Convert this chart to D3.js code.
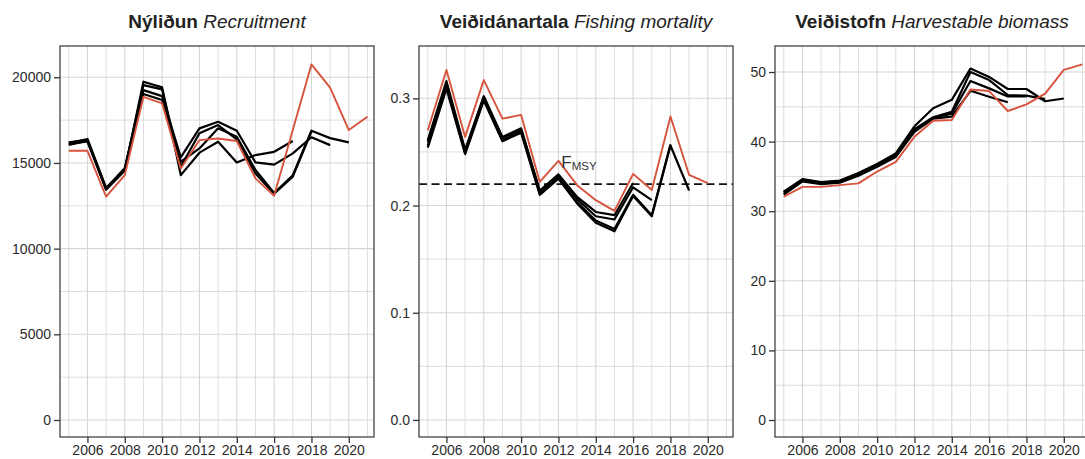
<!DOCTYPE html>
<html>
<head>
<meta charset="utf-8">
<script src="https://cdn.jsdelivr.net/npm/d3@7"></script>
<style>
body { margin: 0; background: #fff; }
svg { font-family: "Liberation Sans", Arial, Helvetica, sans-serif; }
</style>
</head>
<body>
<svg id="chart" width="1085" height="459"></svg>
<script>
/* global d3 */

// retrospective runs, every series starts in 2005
const FIRSTYEAR = 2005;
const XTICKS = [2006, 2008, 2010, 2012, 2014, 2016, 2018, 2020];
const XGRID = d3.range(2005, 2022);

// Nýliðun / Recruitment
const REC_2017 = [16050, 16300, 13450, 14550, 19740, 19410, 14290, 15600, 16240, 15030, 15460, 15650, 16280];
const REC_2018 = [16150, 16400, 13550, 14650, 19545, 19290, 14780, 16730, 17210, 16380, 14390, 13200, 14200, 16850];
const REC_2019 = [16200, 16350, 13500, 14700, 19250, 18900, 15325, 17020, 17400, 16880, 15030, 14900, 15560, 16500, 16040];
const REC_2020 = [16100, 16250, 13450, 14600, 19020, 18670, 15070, 15850, 17020, 16530, 14585, 13250, 14280, 16880, 16450, 16200];
const REC_2021 = [15710, 15710, 13030, 14290, 18860, 18480, 14680, 16335, 16430, 16280, 14100, 13090, 16920, 20750, 19400, 16920, 17700];

// Veiðidánartala / Fishing mortality
const F_2016 = [0.261, 0.316, 0.252, 0.302, 0.264, 0.272, 0.214, 0.229, 0.208, 0.194, 0.191, 0.221];
const F_2017 = [0.259, 0.314, 0.251, 0.301, 0.263, 0.271, 0.213, 0.228, 0.206, 0.190, 0.187, 0.217, 0.205];
const F_2018 = [0.256, 0.311, 0.249, 0.299, 0.261, 0.269, 0.211, 0.226, 0.203, 0.186, 0.178, 0.210, 0.191, 0.257];
const F_2019 = [0.254, 0.309, 0.248, 0.298, 0.260, 0.268, 0.210, 0.225, 0.202, 0.184, 0.176, 0.209, 0.190, 0.256, 0.214];
const F_2020 = [0.270, 0.3265, 0.264, 0.317, 0.281, 0.2845, 0.222, 0.2416, 0.219, 0.205, 0.195, 0.2295, 0.2145, 0.283, 0.2285, 0.2208];
const FMSY = 0.22;

// Veiðistofn / Harvestable biomass
const BIO_2017 = [32.4, 34.3, 33.9, 34.1, 35.1, 36.4, 37.8, 41.4, 43.3, 43.6, 47.3, 46.45, 45.65];
const BIO_2018 = [32.5, 34.4, 34.0, 34.2, 35.2, 36.5, 37.9, 41.6, 43.4, 44.0, 48.7, 47.65, 46.5, 46.5];
const BIO_2019 = [32.7, 34.5, 34.1, 34.3, 35.4, 36.7, 38.1, 41.8, 43.5, 44.3, 50.0, 48.85, 46.7, 46.6, 46.1];
const BIO_2020 = [32.8, 34.6, 34.2, 34.4, 35.5, 36.8, 38.3, 42.2, 44.8, 46.0, 50.5, 49.3, 47.56, 47.56, 45.8, 46.2];
const BIO_2021 = [32.1, 33.5, 33.5, 33.75, 34.0, 35.7, 37.1, 40.7, 43.0, 43.1, 47.5, 47.27, 44.4, 45.35, 46.9, 50.3, 51.1];

const RED = "#d7533d";
const GRID = "#d6d6d6";

var panels = [
  {bold: "Nýliðun", ital: "Recruitment", left: 60,
   ydom: [-992, 21825], yticks: [0, 5000, 10000, 15000, 20000], yminor: [2500, 7500, 12500, 17500],
   fmt: d3.format("d"), old: [REC_2017, REC_2018, REC_2019, REC_2020], last: REC_2021},
  {bold: "Veiðidánartala", ital: "Fishing mortality", left: 419,
   ydom: [-0.0159, 0.3488], yticks: [0, 0.1, 0.2, 0.3], yminor: [0.05, 0.15, 0.25],
   fmt: d3.format(".1f"), old: [F_2016, F_2017, F_2018, F_2019], last: F_2020, ref: FMSY},
  {bold: "Veiðistofn", ital: "Harvestable biomass", left: 775,
   ydom: [-2.44, 53.74], yticks: [0, 10, 20, 30, 40, 50], yminor: [5, 15, 25, 35, 45],
   fmt: d3.format("d"), old: [BIO_2017, BIO_2018, BIO_2019, BIO_2020], last: BIO_2021}
];

var svg = d3.select("#chart");
var ptop = 46, pbottom = 437, pw = 314;

for (var p of panels) {
  var x = d3.scaleLinear().domain([2004.53, 2021.35]).range([p.left, p.left + pw]);
  var y = d3.scaleLinear().domain(p.ydom).range([pbottom, ptop]);
  var g = svg.append("g");

  g.append("clipPath").attr("id", "clip" + p.left)
    .append("rect").attr("x", p.left).attr("y", ptop).attr("width", pw).attr("height", pbottom - ptop);

  // grid
  g.selectAll(".vg").data(XGRID).enter().append("line")
    .attr("x1", d => x(d)).attr("x2", d => x(d)).attr("y1", ptop).attr("y2", pbottom)
    .attr("stroke", GRID).attr("stroke-width", d => d % 2 == 0 ? 1.1 : 0.8);
  g.selectAll(".hg").data(p.yticks.concat(p.yminor)).enter().append("line")
    .attr("x1", p.left).attr("x2", p.left + pw).attr("y1", d => y(d)).attr("y2", d => y(d))
    .attr("stroke", GRID).attr("stroke-width", d => p.yticks.includes(d) ? 1.1 : 0.8);

  var line = d3.line().x((d, i) => x(FIRSTYEAR + i)).y(d => y(d));
  var lines = g.append("g").attr("clip-path", "url(#clip" + p.left + ")");

  if (p.ref !== undefined) {
    lines.append("line")
      .attr("x1", p.left).attr("x2", p.left + pw).attr("y1", y(p.ref)).attr("y2", y(p.ref))
      .attr("stroke", "#111").attr("stroke-width", 1.8).attr("stroke-dasharray", "8,4.5");
    var lab = g.append("text").attr("x", x(2013.1)).attr("y", y(0.235))
      .attr("text-anchor", "middle").attr("fill", "#333").attr("font-size", "17px");
    lab.append("tspan").text("F");
    lab.append("tspan").attr("font-size", "11.5px").attr("dy", "2").text("MSY");
  }

  lines.selectAll(".old").data(p.old).enter().append("path")
    .attr("d", line).attr("fill", "none").attr("stroke", "#000")
    .attr("stroke-width", 2.2).attr("stroke-linejoin", "round");
  lines.append("path").datum(p.last)
    .attr("d", line).attr("fill", "none").attr("stroke", RED)
    .attr("stroke-width", 1.9).attr("stroke-linejoin", "round");

  // frame
  g.append("rect").attr("x", p.left).attr("y", ptop).attr("width", pw).attr("height", pbottom - ptop)
    .attr("fill", "none").attr("stroke", "#444").attr("stroke-width", 1.3);

  var ya = g.append("g").attr("transform", "translate(" + p.left + ",0)")
    .call(d3.axisLeft(y).tickValues(p.yticks).tickFormat(p.fmt).tickSize(6).tickPadding(3));
  var xa = g.append("g").attr("transform", "translate(0," + pbottom + ")")
    .call(d3.axisBottom(x).tickValues(XTICKS).tickFormat(d3.format("d")).tickSize(6).tickPadding(2));
  for (var a of [ya, xa]) {
    a.select(".domain").remove();
    a.selectAll(".tick line").attr("stroke", "#333").attr("stroke-width", 1.3);
    a.selectAll(".tick text").attr("fill", "#2b2b2b").style("font-size", "14px")
      .style("font-family", "'Liberation Sans', Arial, sans-serif");
  }

  var t = g.append("text").attr("x", p.left + pw / 2).attr("y", 28)
    .attr("text-anchor", "middle").attr("fill", "#222").attr("font-size", "19px");
  t.append("tspan").attr("font-weight", "bold").text(p.bold);
  t.append("tspan").attr("font-style", "italic").text(" " + p.ital);
}
</script>
</body>
</html>
